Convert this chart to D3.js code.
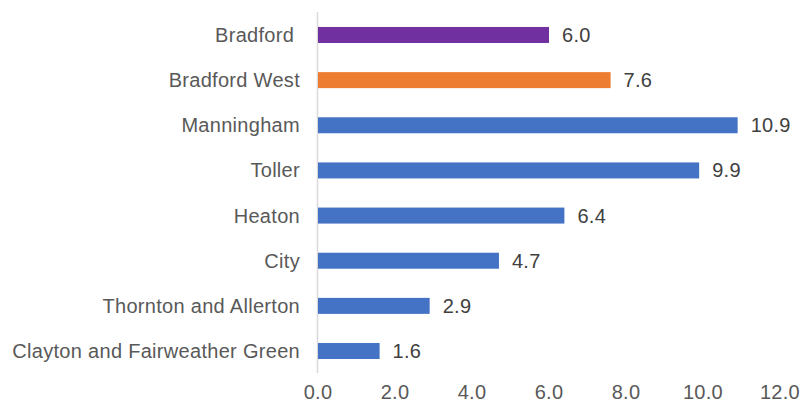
<!DOCTYPE html>
<html>
<head>
<meta charset="utf-8">
<script src="https://cdn.jsdelivr.net/npm/d3@7"></script>
<style>
  body { margin: 0; background: #fff; }
  text { font-family: "Liberation Sans", Arial, sans-serif; letter-spacing: 0.3px; }
</style>
</head>
<body>
<div id="chart"></div>
<script>
// Chart values
const categories = [
  'Bradford ',
  'Bradford West',
  'Manningham',
  'Toller',
  'Heaton',
  'City',
  'Thornton and Allerton',
  'Clayton and Fairweather Green'
];
const values = [6.0, 7.6, 10.9, 9.9, 6.4, 4.7, 2.9, 1.6];
const barColours = ['#7030A0', '#ED7D31', '#4472C4', '#4472C4', '#4472C4', '#4472C4', '#4472C4', '#4472C4'];
const tickValues = [0, 2, 4, 6, 8, 10, 12];

const width = 801;
const height = 403;
const fontSize = 20;

const svg = d3.select('#chart')
  .append('svg')
  .attr('width', width)
  .attr('height', height);

// x goes from the axis line to the 12.0 tick
const x = d3.scaleLinear().domain([0, 12]).range([318, 780]);
// one row per category, centre of each row
const y = d3.scalePoint().domain(categories).range([12.4, 373.6]).padding(0.5);
const barHeight = 16;

// vertical axis line
svg.append('line')
  .attr('x1', x(0) - 0.5).attr('x2', x(0) - 0.5)
  .attr('y1', 12).attr('y2', 373)
  .attr('stroke', '#d9d9d9')
  .attr('stroke-width', 1.5);

// bottom tick labels, no axis line
svg.append('g')
  .selectAll('text')
  .data(tickValues)
  .enter()
  .append('text')
  .attr('x', d => x(d))
  .attr('y', 399)
  .attr('text-anchor', 'middle')
  .attr('fill', '#595959')
  .style('font-size', fontSize + 'px')
  .text(d => d3.format('.1f')(d));

// category labels
svg.append('g')
  .selectAll('text')
  .data(categories)
  .enter()
  .append('text')
  .attr('x', 300)
  .attr('y', d => y(d))
  .attr('dy', '0.35em')
  .attr('text-anchor', 'end')
  .attr('fill', '#595959')
  .style('font-size', fontSize + 'px')
  .style('white-space', 'pre')
  .text(d => d);

// bars
svg.append('g')
  .selectAll('rect')
  .data(values)
  .enter()
  .append('rect')
  .attr('x', x(0))
  .attr('y', (d, i) => y(categories[i]) - barHeight / 2)
  .attr('width', d => x(d) - x(0))
  .attr('height', barHeight)
  .attr('fill', (d, i) => barColours[i]);

// value labels at bar ends
svg.append('g')
  .selectAll('text')
  .data(values)
  .enter()
  .append('text')
  .attr('x', d => x(d) + 13)
  .attr('y', (d, i) => y(categories[i]))
  .attr('dy', '0.35em')
  .attr('fill', '#404040')
  .style('font-size', fontSize + 'px')
  .text(d => d3.format('.1f')(d));
</script>
</body>
</html>
